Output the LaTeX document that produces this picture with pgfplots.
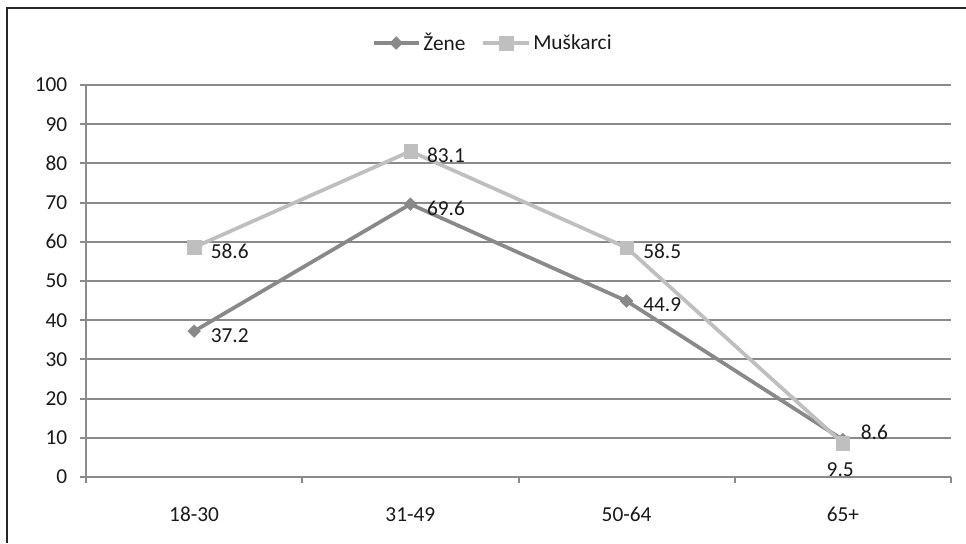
\documentclass[border=0pt]{standalone}
\usepackage{fontspec}
\setmainfont{Carlito}
\usepackage{pgfplots}
\pgfplotsset{compat=1.18}
\definecolor{zene}{RGB}{137,137,137}
\definecolor{musk}{RGB}{191,191,191}
\definecolor{gridc}{RGB}{138,138,138}
\begin{document}
\begin{tikzpicture}[x=0.75pt,y=0.75pt]
\useasboundingbox (0,0) rectangle (966,543);
\draw[line width=1.5pt, black!85] (7,0) -- (7,535) -- (966,535);
\begin{axis}[
  at={(64.5pt,49.5pt)}, anchor=south west,
  scale only axis, width=648.75pt, height=294pt,
  xmin=-0.5, xmax=3.5, ymin=0, ymax=100,
  axis lines*=left,
  axis line style={gridc, line width=1.5pt},
  every tick/.style={gridc, line width=1.5pt},
  tick align=outside,
  major tick length=4.5pt,
  minor tick length=4.5pt,
  ytick={0,10,...,100},
  ymajorgrids,
  grid style={gridc, line width=1.5pt},
  xtick={0,1,2,3},
  xticklabels={18-30,31-49,50-64,65+},
  major x tick style={draw=none},
  minor xtick={-0.5,0.5,1.5,2.5,3.5},
  font=\fontsize{16}{18}\selectfont,
  /pgf/number format/assume math mode=true,
  /pgf/number format/fixed,
  /pgf/number format/precision=1,
  tick label style={font=\fontsize{16}{18}\selectfont, text=black!90},
  xticklabel style={anchor=base, yshift=-28.5pt},
  yticklabel style={anchor=east, xshift=-6pt},
  clip=false,
  legend columns=2,
  legend style={at={(0.4705,1.107)}, anchor=center, draw=none, fill=none,
    font=\fontsize{16}{18}\selectfont, text=black!90,
    /tikz/every even column/.append style={column sep=10pt},
    inner xsep=0pt},
  legend image code/.code={\draw[mark repeat=2,mark phase=2,#1] plot coordinates {(0pt,0pt)(17pt,0pt)(34pt,0pt)};},
]
\addplot[zene, line width=2.8pt, mark=square*, mark size=3.4pt,
  mark options={solid, rotate=45, fill=zene, line width=0.3pt}]
  coordinates {(0,37.2)(1,69.6)(2,44.9)(3,9.5)};
\addlegendentry{Žene}
\addplot[musk, line width=2.8pt, mark=square*, mark size=5pt,
  mark options={solid, fill=musk, line width=0.3pt}]
  coordinates {(0,58.6)(1,83.1)(2,58.5)(3,8.6)};
\addlegendentry{Muškarci}
% data labels
\addplot[forget plot, draw=none, mark=none, nodes near coords,
  nodes near coords style={anchor=west, xshift=9pt, yshift=-3pt, text=black!90, font=\fontsize{16}{18}\selectfont}]
  coordinates {(0,37.2)(1,69.6)(2,44.9)};
\addplot[forget plot, draw=none, mark=none, nodes near coords,
  nodes near coords style={anchor=center, xshift=-2pt, yshift=-22.5pt, text=black!90, font=\fontsize{16}{18}\selectfont}]
  coordinates {(3,9.5)};
\addplot[forget plot, draw=none, mark=none, nodes near coords,
  nodes near coords style={anchor=west, xshift=9pt, yshift=-3pt, text=black!90, font=\fontsize{16}{18}\selectfont}]
  coordinates {(0,58.6)(1,83.1)(2,58.5)};
\addplot[forget plot, draw=none, mark=none, nodes near coords,
  nodes near coords style={anchor=west, xshift=10pt, yshift=8pt, text=black!90, font=\fontsize{16}{18}\selectfont}]
  coordinates {(3,8.6)};
\end{axis}
\end{tikzpicture}
\end{document}
